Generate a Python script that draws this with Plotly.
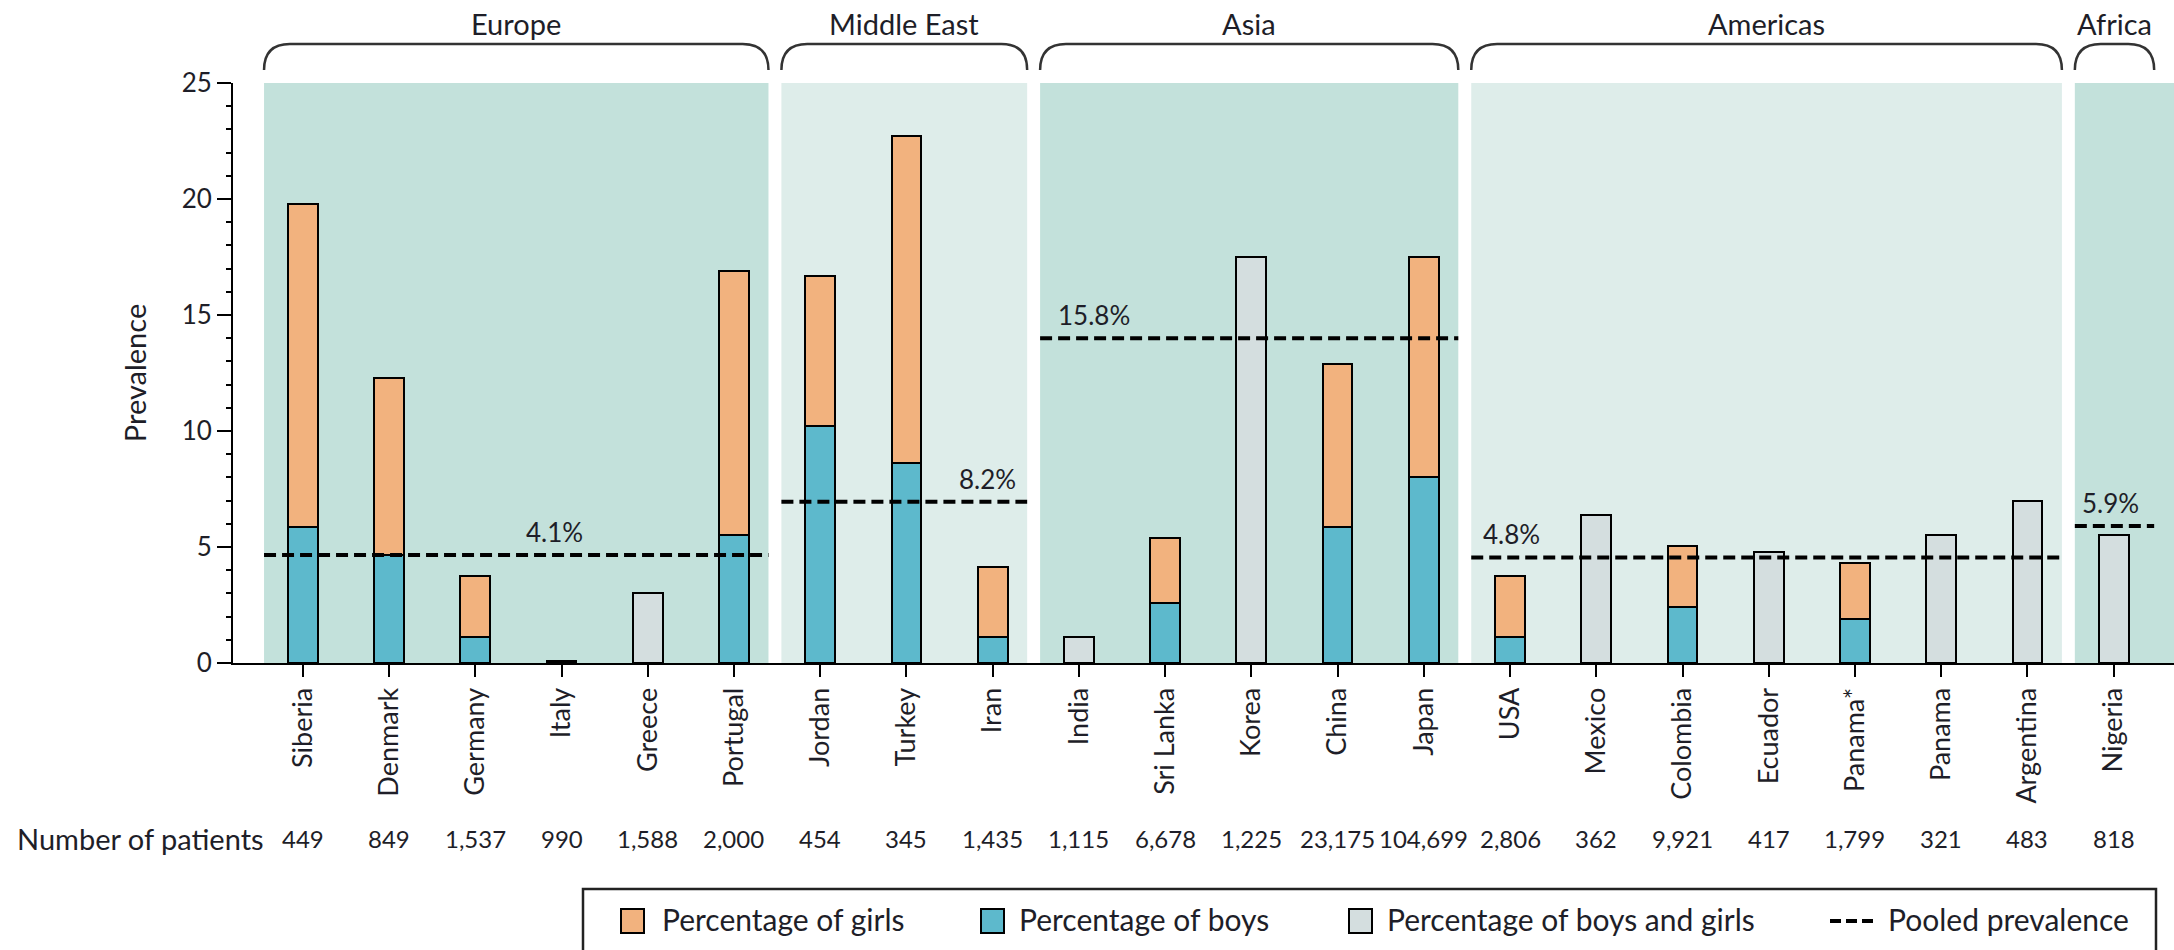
import plotly.graph_objects as go

# ---------------- data ----------------
countries = ["Siberia", "Denmark", "Germany", "Italy", "Greece", "Portugal",
             "Jordan", "Turkey", "Iran",
             "India", "Sri Lanka", "Korea", "China", "Japan",
             "USA", "Mexico", "Colombia", "Ecuador", "Panama*", "Panama", "Argentina",
             "Nigeria"]
patients = [449, 849, 1537, 990, 1588, 2000,
            454, 345, 1435,
            1115, 6678, 1225, 23175, 104699,
            2806, 362, 9921, 417, 1799, 321, 483,
            818]
# height of the blue (boys) segment
boys = [5.85, 4.65, 1.12, None, None, 5.5,
        10.2, 8.6, 1.12,
        None, 2.6, None, 5.85, 8.0,
        1.12, None, 2.4, None, 1.9, None, None,
        None]
# height of the orange (girls) segment stacked on top of boys
girls = [13.95, 7.65, 2.64, None, None, 11.4,
         6.5, 14.1, 3.02,
         None, 2.8, None, 7.05, 9.5,
         2.64, None, 2.65, None, 2.4, None, None,
         None]
# boys and girls combined
both = [None, None, None, 0.1, 3.0, None,
        None, None, None,
        1.12, None, 17.5, None, None,
        None, 6.4, None, 4.8, None, 5.5, 7.0,
        5.5]
region_names = ["Europe", "Middle East", "Asia", "Americas", "Africa"]
region_sizes = [6, 3, 5, 7, 1]
pooled = [4.65, 6.95, 14.0, 4.55, 5.9]
pooled_labels = ["4.1%", "8.2%", "15.8%", "4.8%", "5.9%"]

# ---------------- styling / layout helpers ----------------
FONT = "Lato"
TXT = "#1e1e28"
ORANGE = "#F2B27E"
BLUE = "#5DB9CC"
GREY = "#D4DEDF"
PANEL_DARK = "#C3E1DB"
PANEL_LIGHT = "#DEEDEA"
panel_colors = [PANEL_DARK, PANEL_LIGHT, PANEL_DARK, PANEL_LIGHT, PANEL_DARK]
label_x = [2.92, 7.94, 9.17, 14.02, 20.96]

W, H = 2174, 950
ML, MR, MT, MB = 233, 0, 83, 287
PW, PH = W - ML - MR, H - MT - MB
XR = [-0.81, 21.7]


def pxx(p):
    return (p - ML) / PW


def pxy(p):
    return (H - MB - p) / PH


x = list(range(len(countries)))

fig = go.Figure()
bar_line = dict(color="black", width=2)
fig.add_trace(go.Bar(x=x, y=boys, marker=dict(color=BLUE, line=bar_line),
                     width=0.345, name="Percentage of boys", showlegend=False))
fig.add_trace(go.Bar(x=x, y=girls, marker=dict(color=ORANGE, line=bar_line),
                     width=0.345, name="Percentage of girls", showlegend=False))
fig.add_trace(go.Bar(x=x, y=both, marker=dict(color=GREY, line=bar_line),
                     width=0.345, name="Percentage of boys and girls", showlegend=False))

shapes = []
annotations = []
start = 0
for k, (rn, size) in enumerate(zip(region_names, region_sizes)):
    end = start + size - 1
    left = start - 0.45
    right = end + 0.40
    panel_right = right if k < len(region_names) - 1 else XR[1] + 1
    line_right = right if k < len(region_names) - 1 else end + 0.47
    shapes.append(dict(type="rect", xref="x", yref="y", x0=left, x1=panel_right,
                       y0=0, y1=25.1, fillcolor=panel_colors[k], line=dict(width=0),
                       layer="below"))
    # bracket
    yb, yt, r = pxy(70), pxy(44), 0.3
    shapes.append(dict(type="path", xref="x", yref="paper",
                       path=f"M {left},{yb} Q {left},{yt} {left + r},{yt} "
                            f"L {line_right - r},{yt} Q {line_right},{yt} {line_right},{yb}",
                       line=dict(color="#333333", width=2.5)))
    annotations.append(dict(xref="x", yref="paper", x=(left + line_right) / 2, y=pxy(24),
                            text=rn, showarrow=False, xanchor="center", yanchor="middle",
                            font=dict(family=FONT, size=29, color=TXT)))
    # pooled prevalence line
    fig.add_trace(go.Scatter(x=[left, line_right], y=[pooled[k], pooled[k]], mode="lines",
                             line=dict(color="black", width=4, dash="12px,6px"),
                             showlegend=False, hoverinfo="skip"))
    annotations.append(dict(xref="x", yref="y", x=label_x[k], y=pooled[k] + 1.0,
                            text=pooled_labels[k], showarrow=False,
                            xanchor="center", yanchor="middle",
                            font=dict(family=FONT, size=26, color=TXT)))
    start = end + 1

# number of patients row
annotations.append(dict(xref="paper", yref="paper", x=pxx(15), y=pxy(838),
                        text="Number of patients", showarrow=False,
                        xanchor="left", yanchor="middle",
                        font=dict(family=FONT, size=29, color=TXT)))
for xi, n in zip(x, patients):
    annotations.append(dict(xref="x", yref="paper", x=xi, y=pxy(838),
                            text=f"{n:,}", showarrow=False,
                            xanchor="center", yanchor="middle",
                            font=dict(family=FONT, size=24, color=TXT)))

# legend (drawn manually)
shapes.append(dict(type="rect", xref="paper", yref="paper",
                   x0=pxx(583), x1=pxx(2156), y0=pxy(889), y1=pxy(975),
                   line=dict(color="#222222", width=2.5), fillcolor="rgba(0,0,0,0)"))
leg_y = 921
legend_items = [("box", ORANGE, 621, 660, "Percentage of girls"),
                ("box", BLUE, 981, 1017, "Percentage of boys"),
                ("box", GREY, 1349, 1385, "Percentage of boys and girls"),
                ("dash", None, 1830, 1886, "Pooled prevalence")]
for kind, col, sx, tx, label in legend_items:
    if kind == "box":
        shapes.append(dict(type="rect", xref="paper", yref="paper",
                           x0=pxx(sx), x1=pxx(sx + 23), y0=pxy(leg_y - 12), y1=pxy(leg_y + 12),
                           fillcolor=col, line=dict(color="black", width=2)))
    else:
        for d in range(3):
            shapes.append(dict(type="line", xref="paper", yref="paper",
                               x0=pxx(sx + d * 16), x1=pxx(sx + d * 16 + 11),
                               y0=pxy(leg_y), y1=pxy(leg_y),
                               line=dict(color="black", width=4)))
    annotations.append(dict(xref="paper", yref="paper", x=pxx(tx), y=pxy(leg_y - 2),
                            text=label, showarrow=False, xanchor="left", yanchor="middle",
                            font=dict(family=FONT, size=30, color=TXT)))

fig.update_layout(
    width=W, height=H,
    margin=dict(l=ML, r=MR, t=MT, b=MB, pad=0),
    paper_bgcolor="white", plot_bgcolor="white",
    barmode="stack", bargap=0,
    font=dict(family=FONT, color=TXT),
    shapes=shapes, annotations=annotations,
    xaxis=dict(range=XR, tickmode="array", tickvals=x, ticktext=countries,
               tickangle=-90, showline=True, linecolor="black", linewidth=2,
               ticks="outside", ticklen=12, tickwidth=2, tickcolor="black",
               showgrid=False, zeroline=False,
               tickfont=dict(family=FONT, size=27, color=TXT)),
    yaxis=dict(range=[0, 25], tickvals=[0, 5, 10, 15, 20, 25],
               showline=True, linecolor="black", linewidth=2,
               ticks="outside", ticklen=14, tickwidth=2, tickcolor="black",
               minor=dict(dtick=1, ticks="outside", ticklen=5, tickwidth=2, tickcolor="black"),
               showgrid=False, zeroline=False,
               tickfont=dict(family=FONT, size=26, color=TXT),
               title=dict(text="Prevalence", standoff=26,
                          font=dict(family=FONT, size=29, color=TXT))),
)

fig.write_html("out.html")
